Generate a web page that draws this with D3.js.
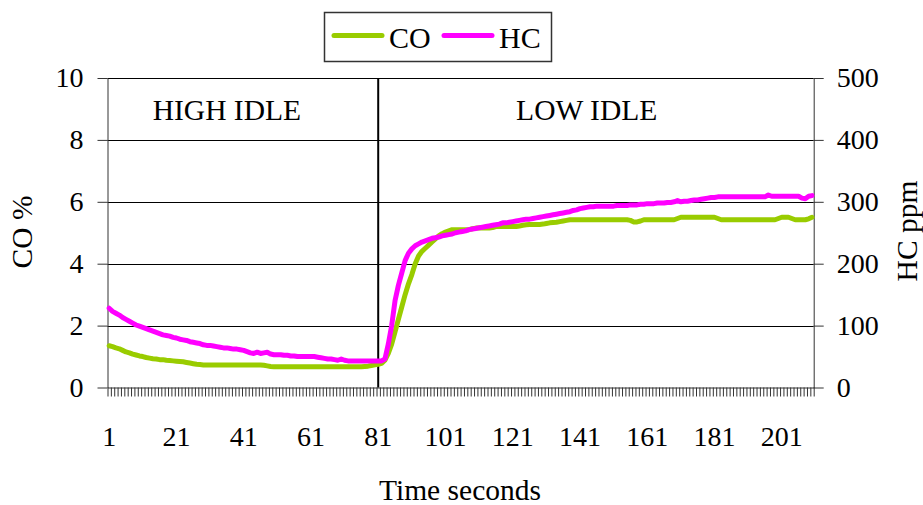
<!DOCTYPE html>
<html>
<head>
<meta charset="utf-8">
<script src="https://cdnjs.cloudflare.com/ajax/libs/d3/7.8.5/d3.min.js"></script>
<style>
  body { margin: 0; background: #fff; }
  svg { display: block; font-family: "Liberation Serif", "Times New Roman", serif; }
</style>
</head>
<body>
<svg id="chart"></svg>
<script>
// time in seconds, 1..210
let seconds = d3.range(1, 211)

let labelTicks = [1, 21, 41, 61, 81, 101, 121, 141, 161, 181, 201]
let coTicks = [0, 2, 4, 6, 8, 10]
let hcTicks = [0, 100, 200, 300, 400, 500]

// CO %
let coValues = [
  1.35, 1.32, 1.28, 1.25, 1.2, 1.15, 1.12, 1.08, 1.05, 1.02,
  1.0, 0.97, 0.95, 0.93, 0.92, 0.9, 0.9, 0.88, 0.87, 0.86,
  0.85, 0.84, 0.83, 0.81, 0.79, 0.77, 0.75, 0.74, 0.73, 0.73,
  0.73, 0.73, 0.73, 0.73, 0.73, 0.73, 0.73, 0.73, 0.73, 0.73,
  0.73, 0.73, 0.73, 0.73, 0.73, 0.73, 0.72, 0.7, 0.68, 0.67,
  0.67, 0.67, 0.67, 0.67, 0.67, 0.67, 0.67, 0.67, 0.67, 0.67,
  0.67, 0.67, 0.67, 0.67, 0.67, 0.67, 0.67, 0.67, 0.67, 0.67,
  0.67, 0.67, 0.67, 0.67, 0.67, 0.67, 0.68, 0.69, 0.71, 0.73,
  0.75, 0.78, 0.88, 1.1, 1.4, 1.8, 2.2, 2.6, 3.0, 3.35,
  3.65, 4.0, 4.25, 4.4, 4.5, 4.6, 4.7, 4.8, 4.9, 4.97,
  5.02, 5.06, 5.1, 5.1, 5.1, 5.1, 5.1, 5.1, 5.13, 5.15,
  5.15, 5.15, 5.15, 5.15, 5.17, 5.2, 5.2, 5.2, 5.2, 5.2,
  5.2, 5.2, 5.22, 5.24, 5.26, 5.27, 5.27, 5.27, 5.27, 5.28,
  5.3, 5.32, 5.33, 5.34, 5.36, 5.38, 5.4, 5.42, 5.42, 5.42,
  5.42, 5.42, 5.42, 5.42, 5.42, 5.42, 5.42, 5.42, 5.42, 5.42,
  5.42, 5.42, 5.42, 5.42, 5.42, 5.4, 5.35, 5.35, 5.38, 5.42,
  5.42, 5.42, 5.42, 5.42, 5.42, 5.42, 5.42, 5.42, 5.42, 5.46,
  5.5, 5.5, 5.5, 5.5, 5.5, 5.5, 5.5, 5.5, 5.5, 5.5,
  5.5, 5.46, 5.42, 5.42, 5.42, 5.42, 5.42, 5.42, 5.42, 5.42,
  5.42, 5.42, 5.42, 5.42, 5.42, 5.42, 5.42, 5.42, 5.42, 5.46,
  5.5, 5.5, 5.5, 5.46, 5.42, 5.42, 5.42, 5.42, 5.45, 5.5
]

// HC ppm
let hcValues = [
  128, 123, 120, 117, 113, 110, 107, 104, 101, 99,
  97, 95, 93, 91, 89, 87, 85, 84, 83, 81,
  80, 78, 77, 76, 74, 73, 72, 71, 69, 68,
  68, 67, 66, 65, 64, 64, 63, 62, 62, 61,
  60, 58, 56, 55, 57, 55, 56, 57, 54, 53,
  53, 53, 52, 52, 51, 51, 50, 50, 50, 50,
  50, 50, 49, 48, 47, 46, 46, 45, 44, 46,
  44, 43, 43, 43, 43, 43, 43, 43, 43, 43,
  43, 43, 46, 70, 100, 140, 165, 185, 205, 217,
  224, 229, 232, 235, 237, 239, 241, 242, 243, 245,
  246, 247, 248, 250, 251, 252, 253, 255, 256, 257,
  258, 259, 260, 261, 262, 263, 264, 266, 266, 267,
  268, 269, 270, 271, 272, 272, 273, 274, 275, 276,
  277, 278, 279, 280, 281, 282, 283, 284, 286, 287,
  289, 290, 291, 292, 292, 293, 293, 293, 293, 293,
  293, 294, 294, 294, 294, 295, 295, 295, 296, 296,
  297, 297, 297, 298, 298, 298, 299, 299, 300, 302,
  300, 301, 301, 302, 303, 303, 304, 305, 306, 307,
  307, 308, 308, 308, 308, 308, 308, 308, 308, 308,
  308, 308, 308, 308, 308, 308, 311, 309, 309, 309,
  309, 309, 309, 309, 309, 309, 306, 305, 309, 310
]

let phaseLabels = ["HIGH IDLE", "LOW IDLE"]

let width = 923
let height = 505
let plotLeft = 107.5
let plotRight = 813.7
let plotTop = 78
let plotBottom = 387.5

let coColor = "#99cc00"
let hcColor = "#ff00ff"

let svg = d3.select("#chart")
  .attr("width", width)
  .attr("height", height)

let xBand = d3.scaleBand()
  .domain(seconds)
  .range([plotLeft, plotRight])

let xEdge = d3.scaleLinear()
  .domain([0, seconds.length])
  .range([plotLeft, plotRight])

let yCo = d3.scaleLinear().domain([0, 10]).range([plotBottom, plotTop])
let yHc = d3.scaleLinear().domain([0, 500]).range([plotBottom, plotTop])

let xMid = (d) => xBand(d) + xBand.bandwidth() / 2

// gridlines
svg.append("g")
  .selectAll("line")
  .data(coTicks.slice(1))
  .enter()
  .append("line")
  .attr("x1", plotLeft)
  .attr("x2", plotRight)
  .attr("y1", (d) => Math.round(yCo(d)) + 0.5)
  .attr("y2", (d) => Math.round(yCo(d)) + 0.5)
  .attr("stroke", "#000")
  .attr("stroke-width", 1)

// axes
let styleAxis = (g) => {
  g.selectAll("path, line").attr("stroke", "#333")
  g.selectAll("text")
    .attr("fill", "#000")
    .style("font-size", "28px")
    .style("font-family", "Liberation Serif, Times New Roman, serif")
}

svg.append("g")
  .attr("transform", "translate(" + plotLeft + ",0)")
  .call(d3.axisLeft(yCo).tickValues(coTicks).tickSize(10).tickSizeOuter(0).tickPadding(14))
  .call(styleAxis)

svg.append("g")
  .attr("transform", "translate(" + plotRight + ",0)")
  .call(d3.axisRight(yHc).tickValues(hcTicks).tickSize(10).tickSizeOuter(0).tickPadding(13))
  .call(styleAxis)

svg.append("g")
  .attr("transform", "translate(0," + plotBottom + ")")
  .call(d3.axisBottom(xEdge).tickValues(d3.range(0, seconds.length + 1)).tickSize(9).tickSizeOuter(0).tickFormat(""))
  .call(styleAxis)

svg.append("g")
  .attr("transform", "translate(0," + plotBottom + ")")
  .call(d3.axisBottom(xBand).tickValues(labelTicks).tickSize(0).tickPadding(39))
  .call((g) => g.select(".domain").remove())
  .call(styleAxis)

// divider between the two phases
svg.append("line")
  .attr("x1", xMid(81))
  .attr("x2", xMid(81))
  .attr("y1", plotTop)
  .attr("y2", plotBottom)
  .attr("stroke", "#000")
  .attr("stroke-width", 2)

svg.selectAll(".phase")
  .data(phaseLabels)
  .enter()
  .append("text")
  .attr("class", "phase")
  .attr("x", (d, i) => i == 0 ? xMid(36) : xMid(143))
  .attr("y", 120)
  .attr("text-anchor", "middle")
  .style("font-size", "29.5px")
  .text((d) => d)

// lines
let coLine = d3.line()
  .x((d, i) => xMid(seconds[i]))
  .y((d) => yCo(d))

let hcLine = d3.line()
  .x((d, i) => xMid(seconds[i]))
  .y((d) => yHc(d))

svg.append("path")
  .datum(coValues)
  .attr("d", coLine)
  .attr("fill", "none")
  .attr("stroke", coColor)
  .attr("stroke-width", 5)
  .attr("stroke-linejoin", "round")
  .attr("stroke-linecap", "round")

svg.append("path")
  .datum(hcValues)
  .attr("d", hcLine)
  .attr("fill", "none")
  .attr("stroke", hcColor)
  .attr("stroke-width", 5)
  .attr("stroke-linejoin", "round")
  .attr("stroke-linecap", "round")

// axis titles
svg.append("text")
  .attr("transform", "translate(32,232) rotate(-90)")
  .attr("text-anchor", "middle")
  .style("font-size", "29.5px")
  .text("CO %")

svg.append("text")
  .attr("transform", "translate(917,231) rotate(-90)")
  .attr("text-anchor", "middle")
  .style("font-size", "29.5px")
  .text("HC ppm")

svg.append("text")
  .attr("x", 460)
  .attr("y", 500)
  .attr("text-anchor", "middle")
  .style("font-size", "29.5px")
  .text("Time seconds")

// legend
let legend = svg.append("g")

legend.append("rect")
  .attr("x", 324.5)
  .attr("y", 12.5)
  .attr("width", 227)
  .attr("height", 49)
  .attr("fill", "#fff")
  .attr("stroke", "#333")
  .attr("stroke-width", 1.5)

let legendItems = [
  { name: "CO", color: coColor, x: 332 },
  { name: "HC", color: hcColor, x: 442 }
]

legendItems.forEach((item) => {
  legend.append("line")
    .attr("x1", item.x + 2)
    .attr("x2", item.x + 50)
    .attr("y1", 35.5)
    .attr("y2", 35.5)
    .attr("stroke", item.color)
    .attr("stroke-width", 5)
    .attr("stroke-linecap", "round")

  legend.append("text")
    .attr("x", item.x + 57)
    .attr("y", 48)
    .style("font-size", "30px")
    .text(item.name)
})
</script>
</body>
</html>
